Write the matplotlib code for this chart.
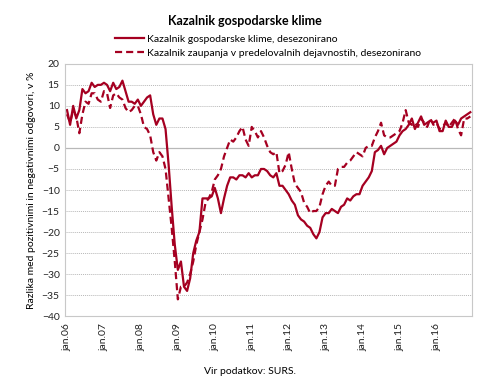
import matplotlib
matplotlib.use('Agg')
import matplotlib.pyplot as plt
import numpy as np

plt.rcParams['font.family'] = ['Lato', 'DejaVu Sans']

title = 'Kazalnik gospodarske klime'
label_esi = 'Kazalnik gospodarske klime, desezonirano'
label_man = 'Kazalnik zaupanja v predelovalnih dejavnostih, desezonirano'
y_label = 'Razlika med pozitivnimi in negativnimi odgovori, v %'
source = 'Vir podatkov: SURS.'

tick_labels = ['jan.06', 'jan.07', 'jan.08', 'jan.09', 'jan.10', 'jan.11',
               'jan.12', 'jan.13', 'jan.14', 'jan.15', 'jan.16']

# monthly values jan 2006 - dec 2016
esi = [
    9, 5.5, 10, 7, 9, 14, 13, 13.5, 15.5, 14.5, 15, 15,
    15.5, 15, 13.5, 15.5, 14, 14.5, 16, 13.5, 11, 11, 10.5, 11.5,
    10, 11, 12, 12.5, 8, 5.5, 7, 7, 4.5, -4, -14, -23,
    -29, -27, -33, -34, -31, -25, -22, -20, -12, -12, -12, -11.5,
    -9.5, -12, -15.5, -12, -9, -7, -7, -7.5, -6.5, -6.5, -7, -6,
    -7, -6.5, -6.5, -5, -5, -5.5, -6.5, -7, -6, -9, -9, -10,
    -11, -12.5, -13.5, -16, -17, -17.5, -18.5, -19, -20.5, -21.5, -20, -16.5,
    -15.5, -15.5, -14.5, -15, -15.5, -14, -13.5, -12, -12.5, -11.5, -11, -11,
    -9, -8, -7, -5.5, -1, -0.5, 0.5, -1.5, 0, 0.5, 1, 1.5,
    3, 4, 4.5, 5.5, 7, 4.5, 6, 7.5, 5.5, 6, 6.5, 6,
    6.5, 4, 4, 6.5, 5, 5, 6.5, 5.5, 7, 7.5, 8, 8.5,
]
manufacturing = [
    8, 6, 9, 7.5, 3.5, 8, 11, 10.5, 13, 13, 11.5, 11,
    13.5, 13, 9.5, 12.5, 13, 12, 11.5, 9.5, 8.5, 9, 10, 10,
    8, 5, 4.5, 3, -1, -3, -1, -2, -5, -12, -19, -27,
    -36, -33, -33, -32, -30, -27, -23, -20, -17, -13, -12, -10.5,
    -7.5, -6.5, -5, -2, 0, 2, 1.5, 2.5, 4, 5, 2, 0.5,
    5, 4, 2.5, 4, 2.5, 0.5, -1, -1.5, -1, -6, -5.5, -4,
    -1, -5, -8.5, -9.5, -10.5, -13, -14, -15.5, -15, -15, -14, -11,
    -9, -8, -9, -9, -5, -4.5, -4.5, -3.5, -3, -2, -1, -1.5,
    -2, 0, 0.5, 0.5, 2.5, 4, 6, 3, 2.5, 2.5, 3, 3.5,
    4, 6, 9, 6, 5.5, 6, 5, 7, 6, 5, 7, 5.5,
    6, 4.5, 5, 6, 5, 6, 7, 4.5, 3, 7, 7, 7.5,
]

red = '#a50021'
months = np.arange(len(esi))

fig = plt.figure(figsize=(4.9, 3.8), dpi=100)
ax = fig.add_axes([0.133, 0.168, 0.830, 0.664])

ax.plot(months, esi, color=red, lw=1.6, label=label_esi)
ax.plot(months, manufacturing, color=red, lw=1.6, ls=(0, (3.2, 1.8)), label=label_man)

ax.set_ylim(-40, 20)
ax.set_yticks(np.arange(-40, 21, 5))
ax.set_xlim(-0.6, 131.5)
ax.set_xticks(np.arange(0, 132, 12))
ax.set_xticklabels(tick_labels, rotation=90)
ax.tick_params(length=0, labelsize=7.5, colors='#222222', pad=4)
ax.tick_params(axis='x', pad=5)

for v in np.arange(-35, 21, 5):
    if v == 0:
        ax.axhline(v, color='#b8b8b8', lw=0.9, zorder=0)
    else:
        ax.axhline(v, color='#b8b8b8', lw=0.7, ls=(0, (1, 1)), zorder=0)
for s in ax.spines.values():
    s.set_color('#c8c8c8')
    s.set_linewidth(0.8)

ax.set_ylabel(y_label, fontsize=7.5, labelpad=4)

fig.text(0.5, 0.945, title, ha='center', va='center', fontsize=9, fontweight='bold')
ax.legend(loc='lower left', bbox_to_anchor=(0.107, 1.0), frameon=False, fontsize=7.5,
          handlelength=2.8, handletextpad=0.3, labelspacing=0.45, borderaxespad=0.2)
fig.text(0.51, 0.022, source, ha='center', va='center', fontsize=7.5)

fig.savefig('out.png', dpi=100)
